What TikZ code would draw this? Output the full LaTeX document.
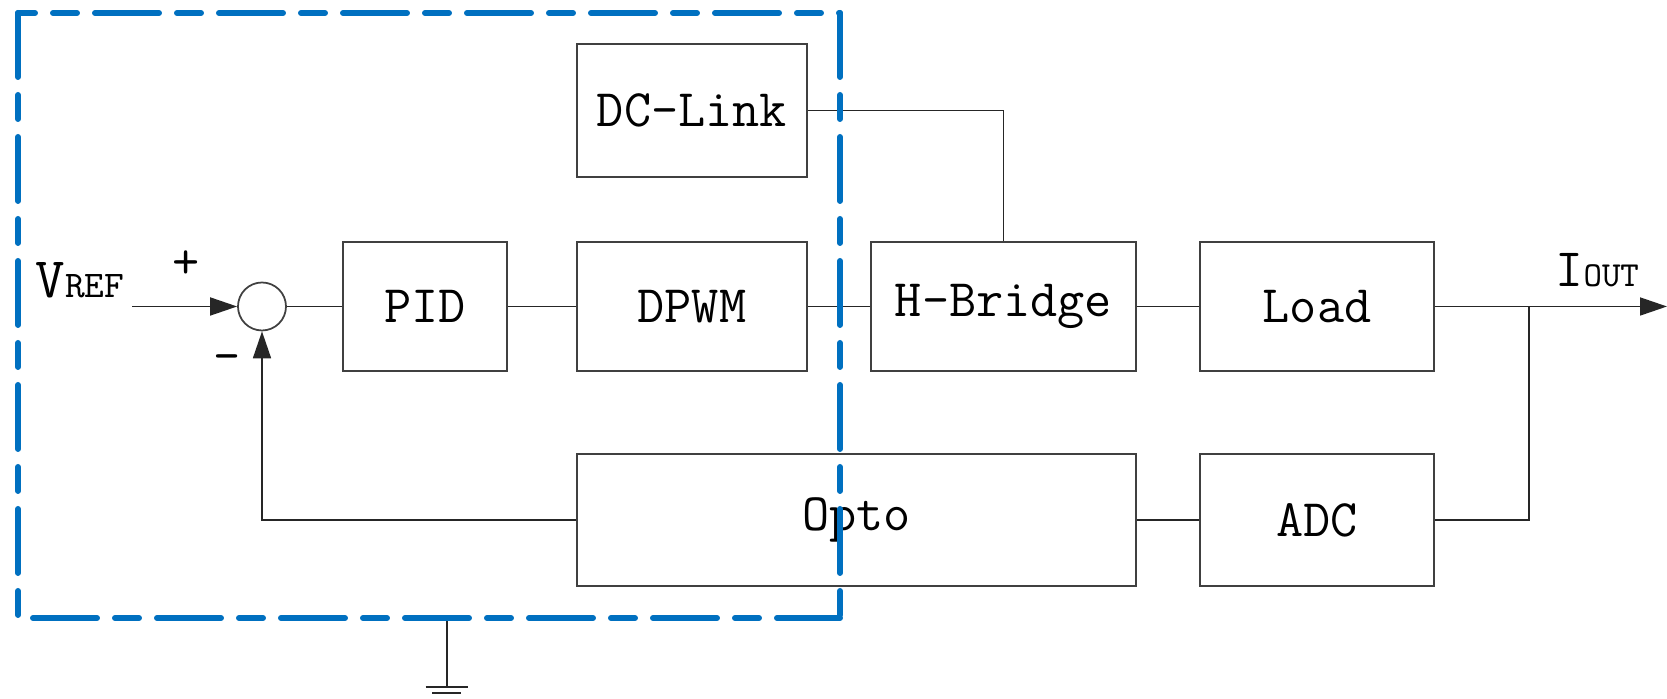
\documentclass[tikz,border=0pt]{standalone}
\usepackage{xcolor}
\usetikzlibrary{arrows.meta}
\definecolor{ctrlblue}{RGB}{0,112,192}

\begin{document}
\begin{tikzpicture}[
  every node/.style={font=\ttfamily\fontsize{15}{18}\selectfont},
  block/.style={draw=black!75, line width=0.5pt, inner sep=0pt},
  wire/.style={draw=black!85, line width=0.5pt},
  tip/.style={-{Triangle[length=2.7mm,width=1.8mm]}},
  frame/.style={ctrlblue, line width=1.7pt, line cap=round,
    dash pattern=on 0.64cm off 0.18cm on 0.24cm off 0.18cm}
]
\useasboundingbox (0,0) rectangle (16.67,6.99);

% Blocks
\node[block, minimum width=2.30cm, minimum height=1.33cm] (dclink) at (6.92,5.885) {DC-Link};
\node[block, minimum width=1.64cm, minimum height=1.29cm] (pid) at (4.25,3.925) {PID};
\node[block, minimum width=2.30cm, minimum height=1.29cm] (dpwm) at (6.92,3.925) {DPWM};
\node[block, minimum width=2.65cm, minimum height=1.29cm] (hbridge) at (10.035,3.925) {H-Bridge};
\node[block, minimum width=2.34cm, minimum height=1.29cm] (load) at (13.17,3.925) {Load};
\node[block, minimum width=5.59cm, minimum height=1.32cm] (opto) at (8.565,1.79) {Opto};
\node[block, minimum width=2.34cm, minimum height=1.32cm] (adc) at (13.17,1.79) {ADC};

% Summing junction
\node[block, circle, minimum size=0.48cm] (sum) at (2.62,3.925) {};

% Labels
\node[anchor=base west, inner sep=0pt] (vreflbl) at (0.35,4.01)
  {\fontsize{16.3}{18}\selectfont V\fontsize{10.7}{12}\selectfont REF};
\node[anchor=base west, inner sep=0pt] (ioutlbl) at (15.55,4.12)
  {\fontsize{15.4}{18}\selectfont I\fontsize{10}{12}\selectfont OUT};
\node[inner sep=0pt] (plus) at (1.86,4.34) {+};
\node[inner sep=0pt] (minus) at (2.27,3.35) {-};

% Free ends
\coordinate (vref) at (1.32,3.925);
\coordinate (tap) at (15.29,3.925);
\coordinate (out) at (16.67,3.925);
\coordinate (gtop) at (4.467,0.81);
\coordinate (gnd) at (4.467,0.123);

% Forward path
\draw[wire, tip] (vref) -- (sum.west);
\draw[wire] (sum.east) -- (pid.west);
\draw[wire] (pid.east) -- (dpwm.west);
\draw[wire] (dpwm.east) -- (hbridge.west);
\draw[wire] (hbridge.east) -- (load.west);
\draw[wire, tip] (load.east) -- (out);
\draw[wire] (dclink.east) -| (hbridge.north);

% Feedback path
\draw[wire] (tap) |- (adc.east);
\draw[wire] (adc.west) -- (opto.east);
\draw[wire, tip] (opto.west) -| (sum.south);

% Ground
\draw[wire] (gtop) -- (gnd);
\draw[wire] ([xshift=-0.21cm]gnd) -- ([xshift=0.21cm]gnd);
\draw[wire] ([xshift=-0.145cm,yshift=-0.066cm]gnd) -- ([xshift=0.145cm,yshift=-0.066cm]gnd);

% Controller boundary, one side at a time
\coordinate (ftl) at (0.18,6.86);
\coordinate (ftr) at (8.40,6.86);
\coordinate (fbl) at (0.18,0.81);
\coordinate (fbr) at (8.40,0.81);
\draw[frame, dash phase=0.47cm] (ftl) -- (ftr);
\draw[frame] (ftl) -- (fbl);
\draw[frame] (ftr) -- (fbr);
\draw[frame, dash phase=1.09cm] (fbl) -- (fbr);

\end{tikzpicture}
\end{document}
